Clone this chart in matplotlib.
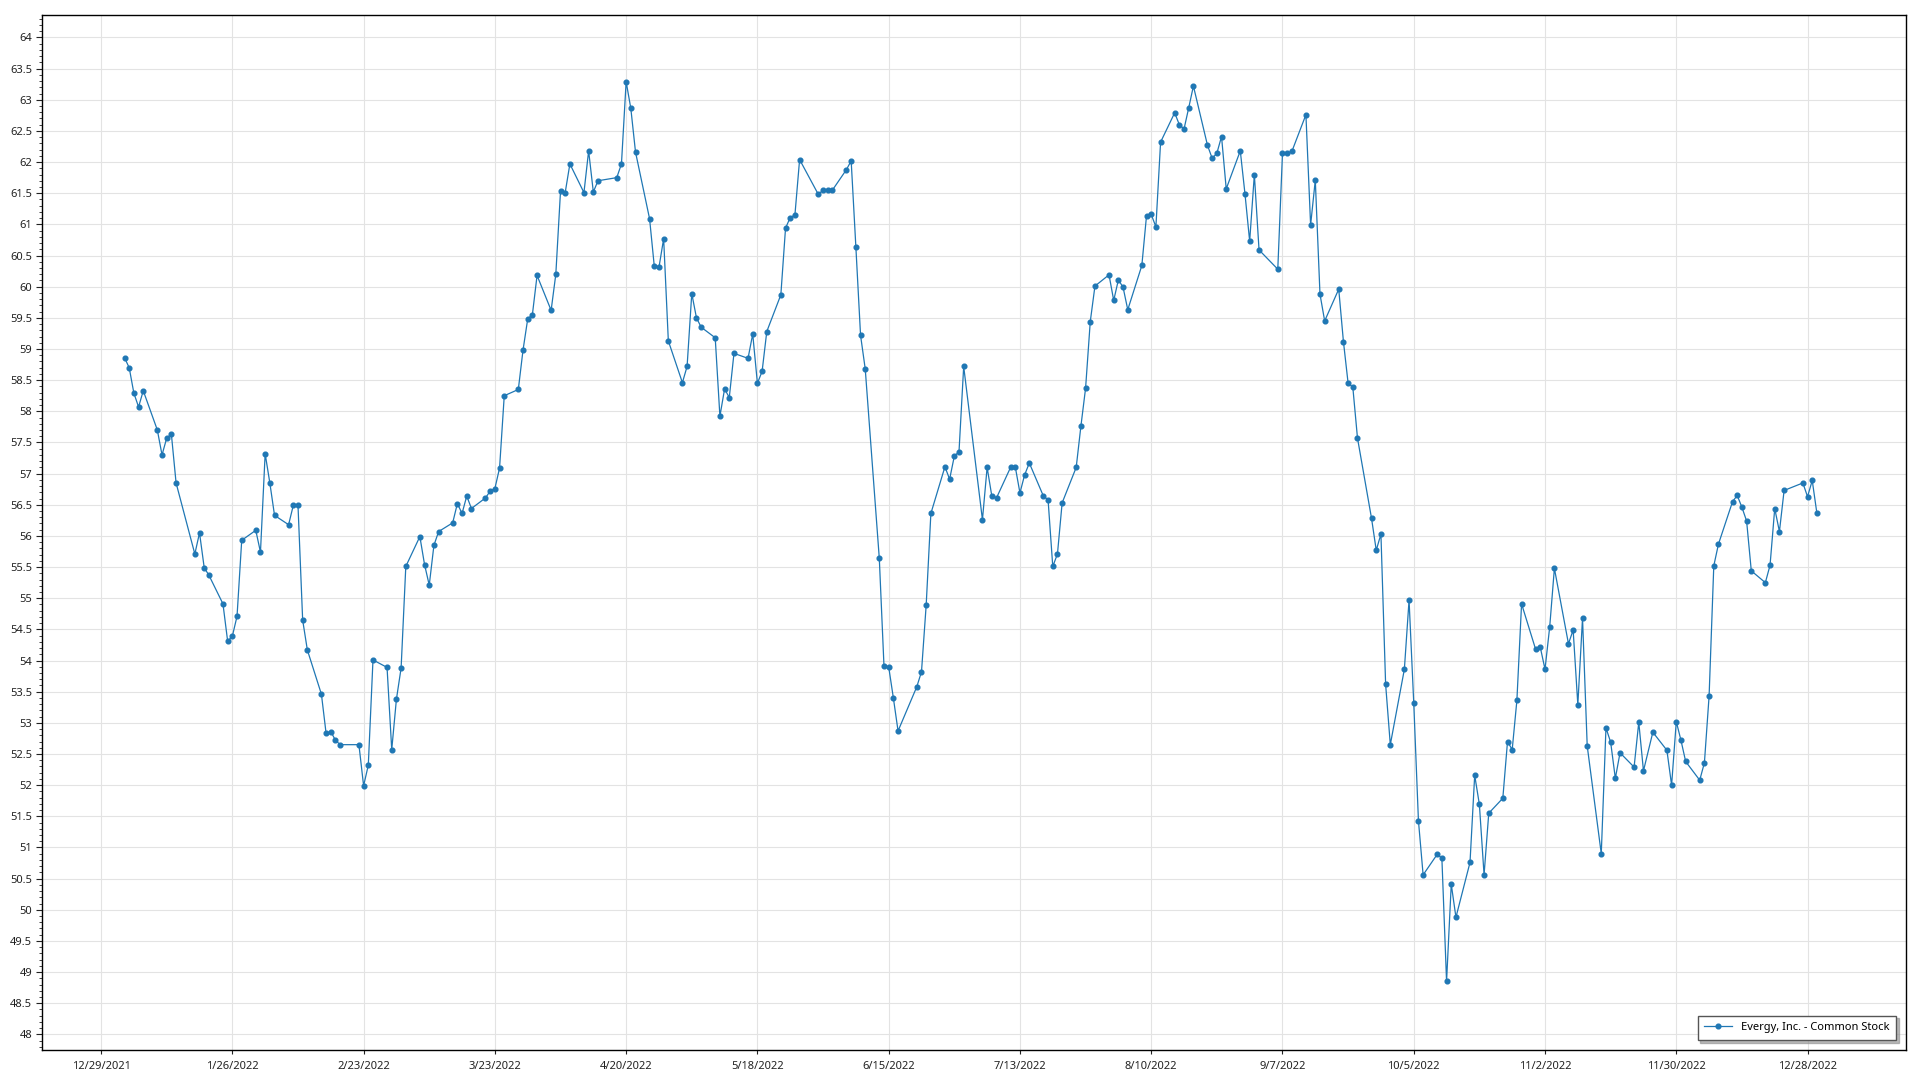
import numpy as np
import pandas as pd
import matplotlib
matplotlib.use("Agg")
import matplotlib.pyplot as plt
import matplotlib.dates as mdates
from matplotlib.ticker import MultipleLocator, FuncFormatter

# closing prices, one list per month
jan = [58.86, 58.70, 58.29, 58.07, 58.33, 57.70, 57.30, 57.57, 57.63, 56.85,
       55.71, 56.05, 55.49, 55.37, 54.91, 54.31, 54.39, 54.71, 55.93, 56.09]
feb = [55.74, 57.32, 56.85, 56.33, 56.18, 56.49, 56.50, 54.65, 54.17, 53.46,
       52.83, 52.86, 52.72, 52.65, 52.65, 51.99, 52.32, 54.01, 53.89]
mar = [52.57, 53.38, 53.88, 55.51, 55.99, 55.54, 55.21, 55.85, 56.07, 56.21,
       56.52, 56.36, 56.64, 56.44, 56.61, 56.72, 56.76, 57.09, 58.25, 58.35,
       58.98, 59.48, 59.55]
apr = [60.18, 59.62, 60.20, 61.53, 61.51, 61.97, 61.51, 62.18, 61.52, 61.70,
       61.75, 61.97, 63.29, 62.86, 62.16, 61.09, 60.33, 60.31, 60.77, 59.13]
may = [58.46, 58.72, 59.89, 59.50, 59.35, 59.18, 57.92, 58.36, 58.22, 58.93,
       58.85, 59.24, 58.45, 58.64, 59.28, 59.87, 60.94, 61.11, 61.15, 62.04,
       61.48]
jun = [61.55, 61.55, 61.55, 61.88, 62.02, 60.64, 59.22, 58.68, 55.64, 53.91,
       53.90, 53.40, 52.87, 53.58, 53.82, 54.89, 56.36, 57.11, 56.91, 57.28,
       57.35]
jul = [58.72, 56.26, 57.10, 56.64, 56.61, 57.10, 57.11, 56.69, 56.98, 57.17,
       56.64, 56.58, 55.51, 55.71, 56.53, 57.10, 57.76, 58.37, 59.44, 60.01]
aug = [60.19, 59.78, 60.11, 59.99, 59.63, 60.34, 61.14, 61.16, 60.96, 62.32,
       62.79, 62.60, 62.53, 62.87, 63.22, 62.27, 62.06, 62.14, 62.41, 61.57,
       62.18, 61.49, 60.73]
sep = [61.80, 60.59, 60.28, 62.14, 62.14, 62.17, 62.76, 60.99, 61.71, 59.88,
       59.45, 59.96, 59.12, 58.45, 58.39, 57.57, 56.28, 55.77, 56.03, 53.62,
       52.65]
oct_ = [53.86, 54.97, 53.32, 51.43, 50.56, 50.89, 50.83, 48.85, 50.41, 49.88,
        50.76, 52.16, 51.69, 50.56, 51.55, 51.79, 52.70, 52.57, 53.36, 54.91,
        54.18]
nov = [54.21, 53.86, 54.54, 55.48, 54.27, 54.49, 53.29, 54.68, 52.63, 50.90,
       52.92, 52.69, 52.11, 52.52, 52.29, 53.01, 52.23, 52.85, 52.56, 52.00,
       53.02]
dec = [52.72, 52.38, 52.08, 52.36, 53.43, 55.52, 55.87, 56.55, 56.65, 56.46,
       56.24, 55.44, 55.25, 55.53, 56.44, 56.07, 56.73, 56.85, 56.63, 56.89,
       56.36]

# market holidays (no points on these days)
holidays = ["2022-01-17", "2022-02-21", "2022-04-15", "2022-05-30", "2022-06-20",
            "2022-07-04", "2022-09-05", "2022-11-24", "2022-12-26"]

series_name = "Evergy, Inc. - Common Stock"

prices = jan + feb + mar + apr + may + jun + jul + aug + sep + oct_ + nov + dec
dates = pd.bdate_range("2022-01-03", "2022-12-30", freq="C", holidays=holidays)

tick_dates = pd.date_range("2021-12-29", "2022-12-28", freq="28D")

plt.rcParams["font.family"] = ["Noto Sans", "DejaVu Sans"]

fig = plt.figure(figsize=(19.2, 10.8), dpi=100)
ax = fig.add_axes([42 / 1920, 1 - 1050 / 1080, (1906 - 42) / 1920, (1050 - 15) / 1080])

ax.plot(dates, prices, color="#1f77b4", lw=0.9, marker="o", ms=3.4,
        label=series_name)

ax.set_xlim(mdates.date2num(pd.Timestamp("2021-12-29")) - 12.6,
            mdates.date2num(pd.Timestamp("2022-12-28")) + 21.0)
ax.set_ylim(47.75, 64.36)

ax.set_xticks(tick_dates)
ax.xaxis.set_major_formatter(FuncFormatter(
    lambda v, p: "{d.month}/{d.day}/{d.year}".format(d=mdates.num2date(v))))
ax.yaxis.set_major_locator(MultipleLocator(0.5))
ax.yaxis.set_minor_locator(MultipleLocator(0.1))
ax.yaxis.set_major_formatter(FuncFormatter(lambda v, p: "%g" % round(v, 1)))

ax.grid(True, which="major", color="#e3e3e3", lw=0.8)
ax.set_axisbelow(True)
ax.tick_params(axis="both", which="major", labelsize=8, colors="#222222",
               length=4, width=0.8)
ax.tick_params(axis="y", which="minor", length=2, width=0.6, color="#222222")
ax.tick_params(axis="y", pad=3)
ax.tick_params(axis="x", length=3, pad=5)
for s in ax.spines.values():
    s.set_color("black")
    s.set_linewidth(1.0)

leg = ax.legend(loc="lower right", fontsize=8, frameon=True, fancybox=False,
                borderaxespad=0.9, handlelength=2.5, borderpad=0.6,
                shadow={"color": "0.55", "alpha": 0.6})
leg.get_frame().set_edgecolor("#555555")
leg.get_frame().set_linewidth(1.0)
leg.get_frame().set_alpha(1)

fig.savefig("out.png", dpi=100)
